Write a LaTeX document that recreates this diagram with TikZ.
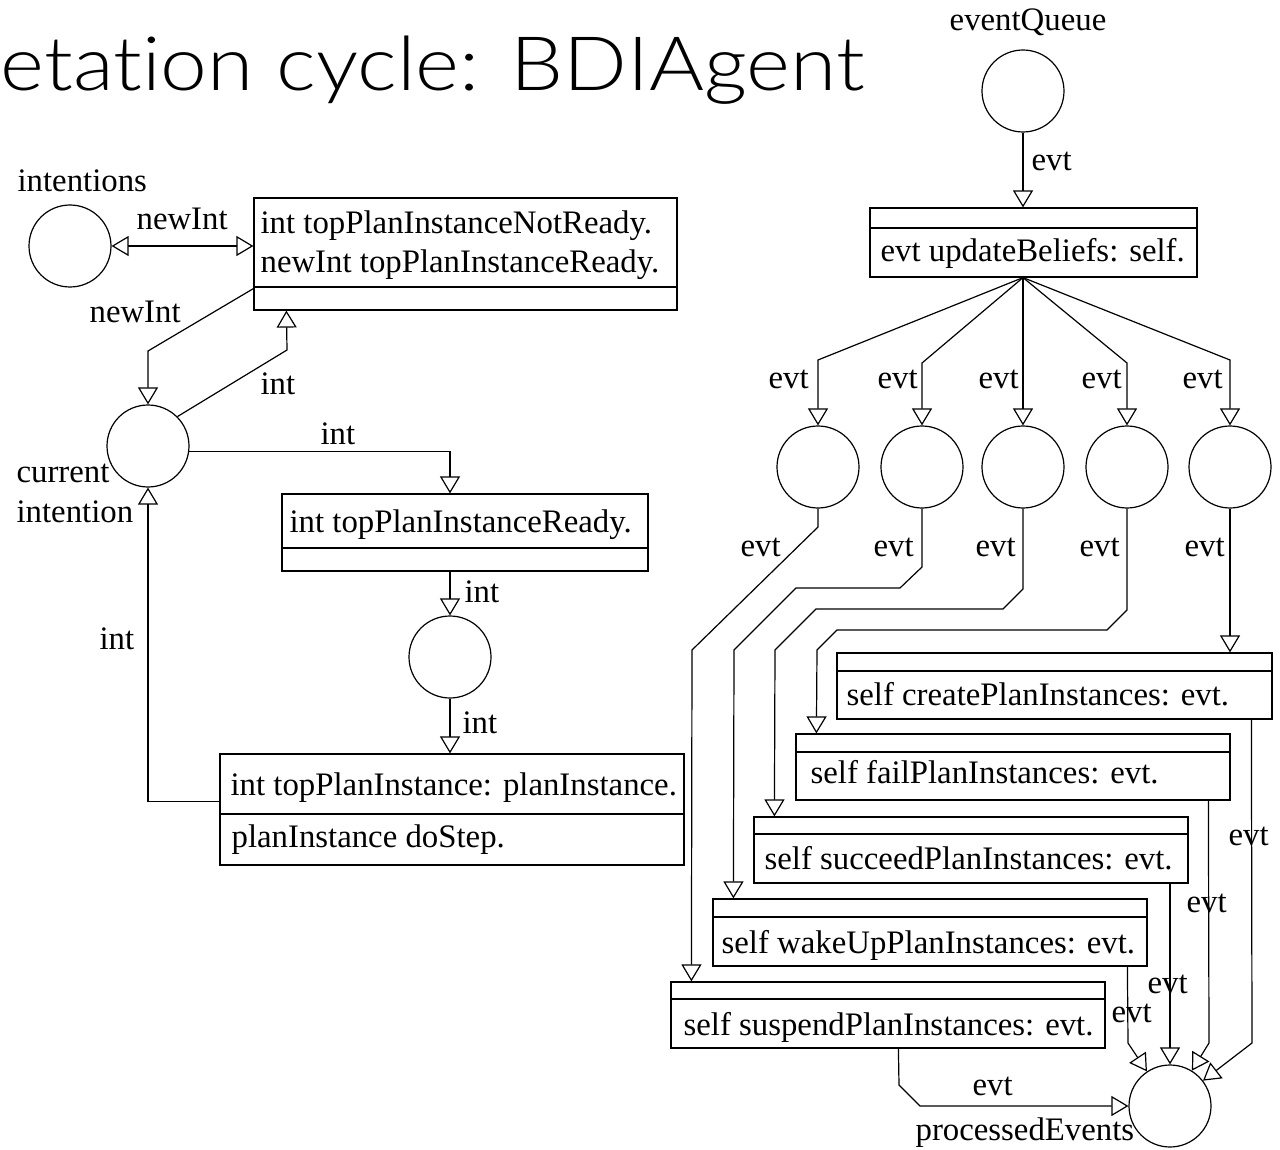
\documentclass[tikz,border=0pt]{standalone}
\usepackage{fontspec}
\usepackage{graphicx}
\setmainfont{Liberation Serif}
\newfontfamily\titlefont{Lato Light}[Ligatures=NoCommon]
\usetikzlibrary{arrows.meta,shapes.geometric,fit,calc}
\newcommand{\mkplace}[3]{\node[place] (#1) at ( #2 , #3 ) {};}
\newcommand{\mkbox}[6]{\node[box, fit={( #2 , #3 ) ( #4 , #5 )}] (#1) {}; \draw ( #2 , #6 ) -- ( #4 , #6 );}

\begin{document}
\begin{tikzpicture}[x=0.5pt, y=-0.5pt, line width=0.6pt,
    >={Triangle[open,length=8.5pt,width=10pt]},
    place/.style={draw, circle, minimum size=41pt, inner sep=0pt},
    box/.style={draw, inner sep=0pt},
    lbl/.style={inner sep=0pt, anchor=base west, font=\fontsize{16.4}{20}\selectfont}]
    \useasboundingbox (0,0) rectangle (1280,1150);
    \node[inner sep=0pt, anchor=base west, font=\titlefont\fontsize{37.5}{40}\selectfont] (title) at (0,91) {\scalebox{1.12}[1]{etation cycle: BDIAgent}};
    % intentions
    \mkplace{ints}{70}{246}
    \node[lbl] (intsl) at (17,192) {intentions};
    \mkbox{nr}{254}{198}{677}{310}{287}
    \node[lbl] (nrt1) at (260,234) {int topPlanInstanceNotReady.};
    \node[lbl] (nrt2) at (260,273) {newInt topPlanInstanceReady.};
    \draw[<->] (ints.east) -- (ints.east -| nr.west);
    \node[lbl] (nil1) at (136,230) {newInt};
    % current intention
    \mkplace{cur}{148}{446}
    \node[lbl] (curl1) at (16,482) {current};
    \node[lbl] (curl2) at (16,522) {intention};
    \draw[->] ($(nr.south west)+(0,-22)$) -- (148,351) -- (cur.north);
    \node[lbl] (nil2) at (89,322) {newInt};
    \draw[->] (cur.north east) -- (287,350) -- ($(nr.south west)+(33,0)$);
    \node[lbl] (il1) at (260,394) {int};
    % ready
    \mkplace{mid}{450}{657}
    \mkbox{rd}{282}{494}{648}{571}{548}
    \node[lbl] (rdt) at (289,532) {int topPlanInstanceReady.};
    \draw[->] (cur.-8) -| (mid |- rd.north);
    \node[lbl] (il2) at (320,444) {int};
    \draw[->] (mid |- rd.south) -- (mid.north);
    \node[lbl] (il3) at (464,602) {int};
    % top plan instance
    \mkbox{tp}{220}{754}{684}{865}{814}
    \node[lbl] (tpt1) at (230,795) {int topPlanInstance: planInstance.};
    \node[lbl] (tpt2) at (231,847) {planInstance doStep.};
    \draw[->] (mid.south) -- (mid |- tp.north);
    \node[lbl] (il4) at (462,733) {int};
    \draw[->] ($(tp.north west)+(0,48)$) -| (cur.south);
    \node[lbl] (il5) at (99,649) {int};
    % event queue
    \mkplace{eq}{1023}{91}
    \node[lbl, anchor=base] (eql) at (1028,31) {eventQueue};
    \mkbox{ub}{870}{208}{1197}{277}{228}
    \node[lbl] (ubt) at (880,262) {evt updateBeliefs: self.};
    \draw[->] (eq.south) -- (eq |- ub.north);
    \node[lbl] (el0) at (1031,171) {evt};
    % event places
    \mkplace{e1}{818}{467}
    \mkplace{e2}{922}{467}
    \mkplace{e3}{1023}{467}
    \mkplace{e4}{1127}{467}
    \mkplace{e5}{1230}{467}
    \draw[->] (eq |- ub.south) -- (818,360) -- (e1.north);
    \draw[->] (eq |- ub.south) -- (922,363) -- (e2.north);
    \draw[->] (eq |- ub.south) -- (e3.north);
    \draw[->] (eq |- ub.south) -- (1127,363) -- (e4.north);
    \draw[->] (eq |- ub.south) -- (1230,360) -- (e5.north);
    \node[lbl] (ea1) at (768,388) {evt};
    \node[lbl] (ea2) at (877,388) {evt};
    \node[lbl] (ea3) at (978,388) {evt};
    \node[lbl] (ea4) at (1081,388) {evt};
    \node[lbl] (ea5) at (1182,388) {evt};
    % plan instance boxes
    \mkbox{cr}{837}{653}{1272}{719}{671}
    \mkbox{fl}{796}{734}{1230}{800}{752}
    \mkbox{sc}{754}{817}{1188}{883}{834}
    \mkbox{wk}{713}{899}{1147}{966}{917}
    \mkbox{sp}{671}{982}{1105}{1048}{999}
    \node[lbl] (crt) at (846,705) {self createPlanInstances: evt.};
    \node[lbl] (flt) at (810,783) {self failPlanInstances: evt.};
    \node[lbl] (sct) at (764,869) {self succeedPlanInstances: evt.};
    \node[lbl] (wkt) at (721,953) {self wakeUpPlanInstances: evt.};
    \node[lbl] (spt) at (683,1035) {self suspendPlanInstances: evt.};
    \draw[->] (e1.south) -- (818,527) -- (692,650) -- ($(sp.north west)+(21,0)$);
    \draw[->] (e2.south) -- (922,567) -- (900,588) -- (796,588) -- (734,650) -- ($(wk.north west)+(21,0)$);
    \draw[->] (e3.south) -- (1023,589) -- (1003,609) -- (816,609) -- (775,650) -- ($(sc.north west)+(21,0)$);
    \draw[->] (e4.south) -- (1127,610) -- (1107,630) -- (837,630) -- (817,650) -- ($(fl.north west)+(21,0)$);
    \draw[->] (e5.south) -- (e5 |- cr.north);
    \node[lbl] (eb1) at (740,556) {evt};
    \node[lbl] (eb2) at (873,556) {evt};
    \node[lbl] (eb3) at (975,556) {evt};
    \node[lbl] (eb4) at (1079,556) {evt};
    \node[lbl] (eb5) at (1184,556) {evt};
    % processed events
    \mkplace{pe}{1170}{1106}
    \node[lbl] (pel) at (915,1140) {processedEvents};
    \draw[->] ($(cr.south west)+(415,0)$) -- (1252,1043) -- (pe);
    \draw[->] ($(fl.south west)+(413,0)$) -- (1209,1043) -- (pe);
    \draw[->] (pe |- sc.south) -- (pe.north);
    \draw[->] ($(wk.south west)+(415,0)$) -- (1128,1043) -- (pe);
    \draw[->] ($(sp.south west)+(228,0)$) -- (899,1085) -- (920,1106) -- (pe.west);
    \node[lbl] (ec1) at (1228,845) {evt};
    \node[lbl] (ec2) at (1186,912) {evt};
    \node[lbl] (ec3) at (1147,993) {evt};
    \node[lbl] (ec4) at (1111,1022) {evt};
    \node[lbl] (ec5) at (972,1095) {evt};
\end{tikzpicture}
\end{document}
